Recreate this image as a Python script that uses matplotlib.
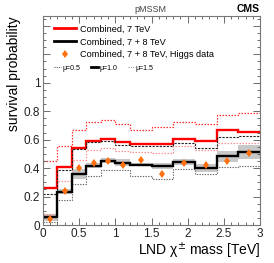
import matplotlib
matplotlib.use("Agg")
import matplotlib.pyplot as plt
import numpy as np
from matplotlib.lines import Line2D
from matplotlib.ticker import MultipleLocator, FuncFormatter

plt.rcParams['font.family'] = ['Liberation Sans', 'DejaVu Sans']

# ---- data ----
mass_edges = [0, 0.2, 0.4, 0.6, 0.8, 1.0, 1.2, 1.5, 1.8, 2.1, 2.4, 2.7, 3.0]
mass_centers = [0.1, 0.3, 0.5, 0.7, 0.9, 1.1, 1.35, 1.65, 1.95, 2.25, 2.55, 2.85]

red_mu10 = [0.26, 0.41, 0.545, 0.594, 0.604, 0.583, 0.569, 0.572, 0.606, 0.594, 0.67, 0.655]
red_mu05 = [0.453, 0.557, 0.669, 0.727, 0.739, 0.709, 0.667, 0.688, 0.727, 0.711, 0.773, 0.785]
red_mu15 = [0.077, 0.31, 0.46, 0.53, 0.541, 0.518, 0.511, 0.506, 0.553, 0.525, 0.58, 0.58]

blk_mu10 = [0.054, 0.235, 0.36, 0.418, 0.453, 0.437, 0.425, 0.413, 0.441, 0.402, 0.483, 0.511]
blk_err = [0.025, 0.02, 0.035, 0.02, 0.015, 0.025, 0.012, 0.02, 0.02, 0.03, 0.04, 0.05]
blk_mu05 = [0.216, 0.39, 0.534, 0.585, 0.594, 0.562, 0.553, 0.557, 0.58, 0.541, 0.622, 0.627]
blk_mu15 = [0.02, 0.176, 0.29, 0.342, 0.387, 0.387, 0.346, 0.325, 0.392, 0.36, 0.41, 0.418]

higgs_vals = [0.042, 0.237, 0.40, 0.437, 0.448, 0.42, 0.455, 0.36, 0.437, 0.425, 0.448, 0.507]
higgs_err = [0.015, 0.015, 0.015, 0.015, 0.015, 0.015, 0.015, 0.015, 0.015, 0.015, 0.015, 0.015]

y_tick_labels = ['0', '0.2', '0.4', '0.6', '0.8', '1']

# ---- figure ----
W, H = 274, 263
fig = plt.figure(figsize=(W / 100, H / 100), dpi=100)
ax = fig.add_axes([43 / W, (H - 225) / H, 217 / W, 209 / H])

edges = np.array(mass_edges)
b = np.array(blk_mu10)
e = np.array(blk_err)
ax.stairs(b + e, edges, baseline=b - e, fill=True, color='#c8c8c8', lw=0)

ax.stairs(red_mu05, edges, color='#ff3030', lw=0.9, ls=(0, (1.2, 1.2)), baseline=None)
ax.stairs(red_mu15, edges, color='#ff9090', lw=0.9, ls=(0, (1.2, 1.2)), baseline=None)
ax.stairs(red_mu10, edges, color='#ff0000', lw=1.7, baseline=None)

ax.stairs(blk_mu05, edges, color='#222222', lw=0.8, ls=(0, (2.0, 1.2)), baseline=None)
ax.stairs(blk_mu15, edges, color='#666666', lw=0.8, ls=(0, (1.2, 1.2)), baseline=None)
ax.stairs(blk_mu10, edges, color='#000000', lw=1.7, baseline=None)

ax.errorbar(mass_centers, higgs_vals, yerr=higgs_err, fmt='d', color='#ff7010',
            ms=4.5, mew=0, elinewidth=1.2, capsize=0, zorder=5)

ax.set_xlim(0, 3)
ax.set_ylim(0, 1.47)
ax.xaxis.set_major_locator(MultipleLocator(0.5))
ax.xaxis.set_minor_locator(MultipleLocator(0.1))
ax.yaxis.set_major_locator(MultipleLocator(0.2))
ax.yaxis.set_minor_locator(MultipleLocator(0.05))

def yfmt(v, pos):
    i = int(round(v / 0.2))
    if 0 <= i < len(y_tick_labels) and abs(v - i * 0.2) < 1e-6:
        return y_tick_labels[i]
    return ''
ax.yaxis.set_major_formatter(FuncFormatter(yfmt))
ax.xaxis.set_major_formatter(FuncFormatter(lambda v, p: ('%g' % v)))

ax.tick_params(which='both', direction='in', top=True, right=True,
               color='#555555', labelsize=8.5, labelcolor='#222222', pad=2)
ax.tick_params(which='major', length=5, width=0.6)
ax.tick_params(which='minor', length=2.5, width=0.6)
for s in ax.spines.values():
    s.set_color('#777777')
    s.set_linewidth(0.8)

ax.set_xlabel('LND \u03c7$^{\\pm}$ mass [TeV]', fontsize=10, ha='right', x=1.0, labelpad=1)
ax.set_ylabel('survival probability', fontsize=10, ha='right', y=1.0, labelpad=2)

fig.text(150 / W, 1 - 10 / H, 'pMSSM', ha='center', va='center', fontsize=6.5, color='#444444')
fig.text(260 / W, 1 - 9 / H, 'CMS', ha='right', va='center', fontsize=7.5, fontweight='bold')

h1 = [Line2D([], [], color='#ff0000', lw=2),
      Line2D([], [], color='black', lw=2),
      Line2D([], [], color='#ff7010', marker='d', ls='none', ms=4.5, mew=0)]
l1 = ax.legend(h1, ['Combined, 7 TeV', 'Combined, 7 + 8 TeV', 'Combined, 7 + 8 TeV, Higgs data'],
               loc='upper left', bbox_to_anchor=(0.02, 0.99), frameon=False, fontsize=6.6,
               handlelength=2.4, handletextpad=0.5, labelspacing=0.42, borderpad=0.2)
ax.add_artist(l1)
h2 = [Line2D([], [], color='#555555', lw=0.8, ls=(0, (1, 1))),
      Line2D([], [], color='black', lw=2),
      Line2D([], [], color='#999999', lw=0.8, ls=(0, (1, 1)))]
ax.legend(h2, ['\u03bc=0.5', '\u03bc=1.0', '\u03bc=1.5'], loc='upper left',
          bbox_to_anchor=(0.03, 0.79), frameon=False, fontsize=5, ncol=3,
          handlelength=1.0, handletextpad=0.2, columnspacing=1.5, borderpad=0.2)

fig.savefig('out.png', dpi=100)
